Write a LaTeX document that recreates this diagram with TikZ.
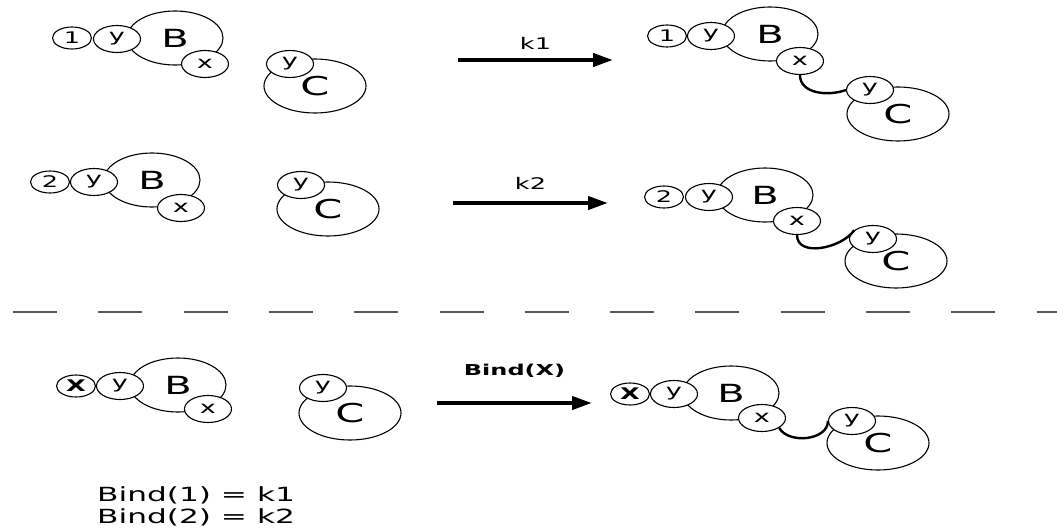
\documentclass[tikz,border=0pt]{standalone}
\usepackage{fontspec}
\setmainfont{DejaVu Sans}[FakeStretch=1.6]
\usetikzlibrary{shapes.geometric, arrows.meta}
\definecolor{cutGray}{RGB}{90,90,90}

\begin{document}
\begin{tikzpicture}[x=1pt, y=-1pt,
    blob/.style={ellipse, draw, fill=white, line width=1.1pt, inner sep=0pt},
    bodyB/.style={blob, minimum width=96pt, minimum height=54pt, font=\fontsize{25}{25}\selectfont},
    bodyC/.style={blob, minimum width=102pt, minimum height=54pt, font=\fontsize{26}{26}\selectfont},
    site/.style={blob, minimum width=47pt, minimum height=27pt, font=\fontsize{17}{17}\selectfont},
    tag/.style={blob, minimum width=39pt, minimum height=22pt, font=\fontsize{16}{16}\selectfont},
    reaction/.style={-{Triangle[length=20pt, width=13pt]}, line width=4pt},
    rate/.style={inner sep=0pt, font=\fontsize{16}{16}\selectfont},
    bond/.style={line width=2.4pt},
    cut/.style={cutGray, line width=1.3pt, dash pattern=on 44pt off 41.3pt}]
  \useasboundingbox (0,0) rectangle (1057,530);

  % First reaction, left side
  \node[bodyB] (bL1) at (175,38) {B};
  \node[site] (yL1) at (117,39) {y};
  \node[tag] (tL1) at (72,38) {1};
  \node[site] (xL1) at (205,64) {x};
  \node[bodyC] (cL1) at (315,86) {C};
  \node[site] (cyL1) at (290,64) {y};

  % First reaction, arrow
  \coordinate (k1s) at (458,60);
  \coordinate (k1e) at (613,60);
  \draw[reaction] (k1s) -- (k1e) node[midway, rate, above=9pt] (lk1) {k1};

  % First reaction, right side
  \node[bodyB] (bR1) at (770,34) {B};
  \node[site] (yR1) at (711,36) {y};
  \node[tag] (tR1) at (667,36) {1};
  \node[site] (xR1) at (800,61) {x};
  \node[bodyC] (cR1) at (898,114) {C};
  \node[site] (cyR1) at (870,90) {y};
  \draw[bond] (xR1.south) to[out=-90, in=200] (cyR1.west);

  % Second reaction, left side
  \node[bodyB] (bL2) at (152,180) {B};
  \node[site] (yL2) at (94,182) {y};
  \node[tag] (tL2) at (50,182) {2};
  \node[site] (xL2) at (181,208) {x};
  \node[bodyC] (cL2) at (328,209) {C};
  \node[site] (cyL2) at (301,185) {y};

  % Second reaction, arrow
  \coordinate (k2s) at (453,203);
  \coordinate (k2e) at (608,203);
  \draw[reaction] (k2s) -- (k2e) node[midway, rate, above=12pt] (lk2) {k2};

  % Second reaction, right side
  \node[bodyB] (bR2) at (765,195) {B};
  \node[site] (yR2) at (709,197) {y};
  \node[tag] (tR2) at (664,197) {2};
  \node[site] (xR2) at (797,221) {x};
  \node[bodyC] (cR2) at (896,261) {C};
  \node[site] (cyR2) at (873,239) {y};
  \draw[bond] (xR2.south) to[out=-90, in=235] (cyR2.155);

  % Separator
  \coordinate (cutL) at (13,312);
  \coordinate (cutR) at (1057,312);
  \draw[cut] (cutL) -- (cutR);

  % General rule, left side
  \node[bodyB] (bL3) at (178,385) {B};
  \node[site] (yL3) at (120,386) {y};
  \node[tag, font=\fontsize{16}{16}\selectfont\bfseries] (tL3) at (76,386) {X};
  \node[site] (xL3) at (208,409) {x};
  \node[bodyC] (cL3) at (350,413) {C};
  \node[site] (cyL3) at (323,388) {y};

  % General rule, arrow
  \coordinate (bxs) at (437,403);
  \coordinate (bxe) at (592,403);
  \draw[reaction] (bxs) -- (bxe) node[midway, rate, above=24pt, font=\fontsize{15}{15}\selectfont\bfseries] (lbx) {Bind(X)};

  % General rule, right side
  \node[bodyB] (bR3) at (731,393) {B};
  \node[site] (yR3) at (674,394) {y};
  \node[tag, font=\fontsize{16}{16}\selectfont\bfseries] (tR3) at (630,394) {X};
  \node[site] (xR3) at (762,418) {x};
  \node[bodyC] (cR3) at (878,443) {C};
  \node[site] (cyR3) at (852,421) {y};
  \draw[bond] (xR3.-30) to[out=-60, in=-90] (cyR3.west);

  % Rates
  \node[anchor=west, align=left, inner sep=0pt, font=\fontsize{19.5}{22}\selectfont] (rates) at (97,506) {Bind(1) = k1\\Bind(2) = k2};
\end{tikzpicture}
\end{document}
